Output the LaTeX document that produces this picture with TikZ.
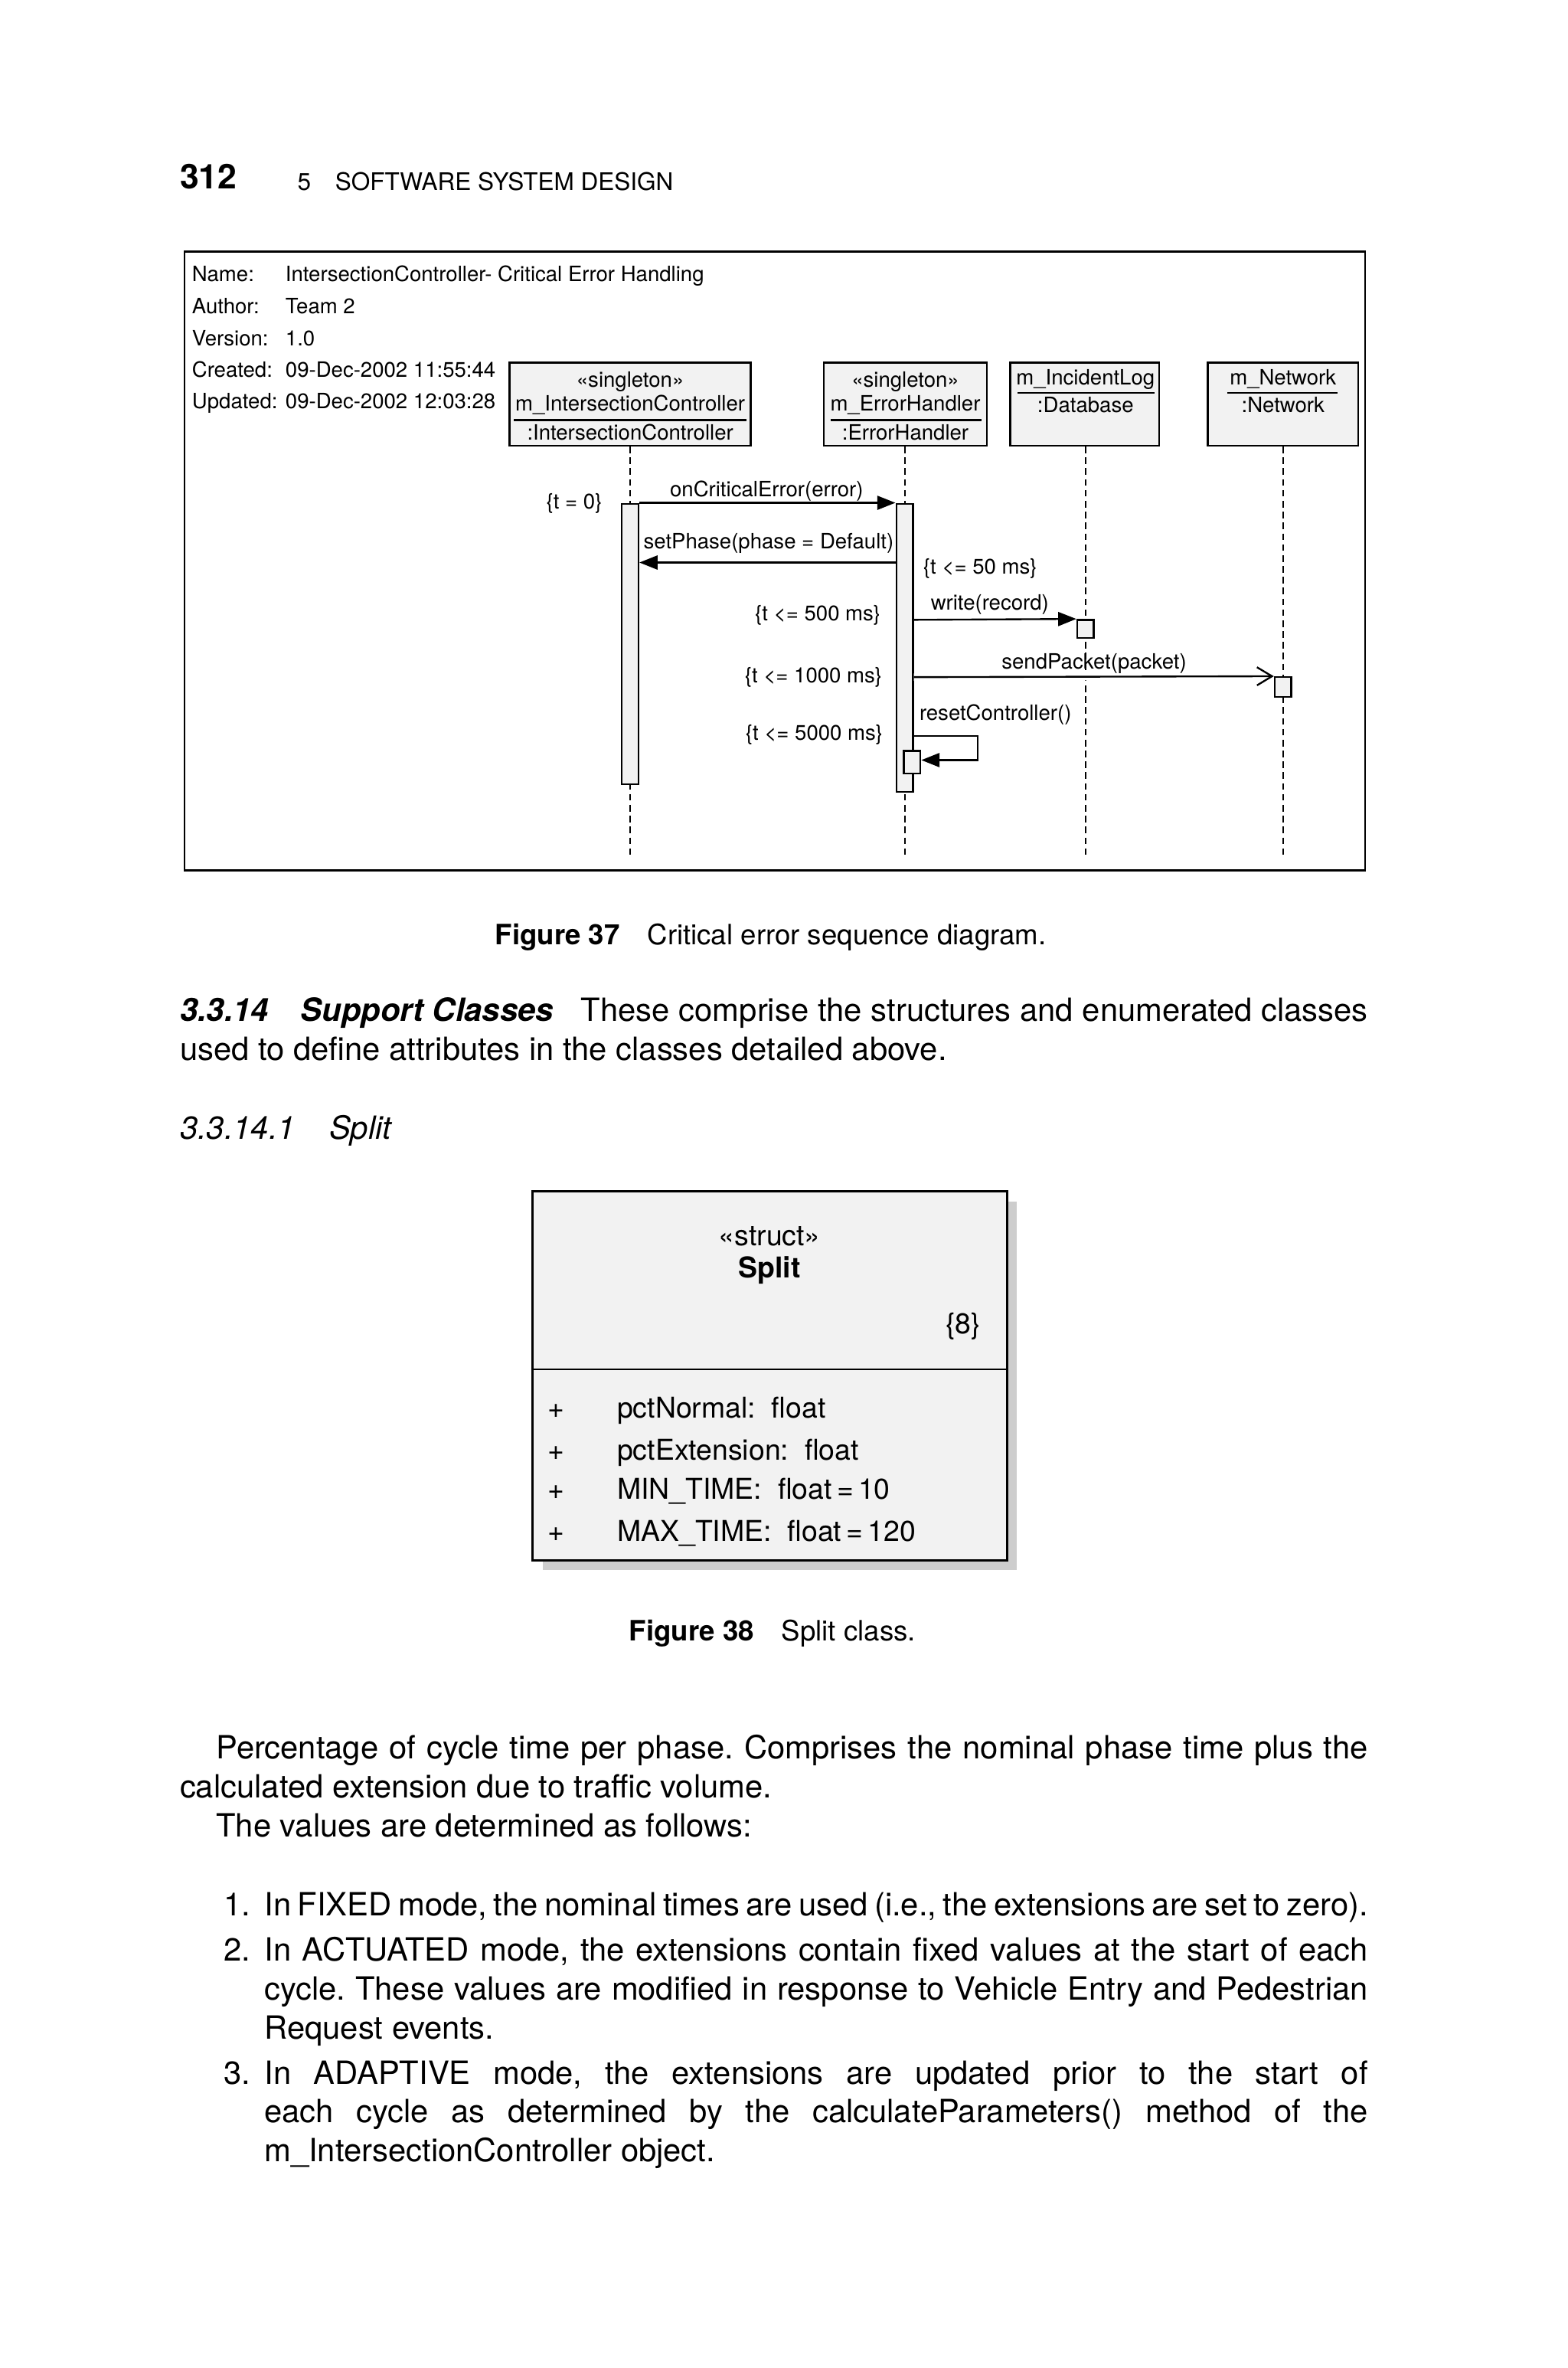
\documentclass[tikz,border=0pt]{standalone}
\usepackage{fontspec}
\setmainfont{TeX Gyre Heros}
\usetikzlibrary{arrows.meta}
\definecolor{boxfill}{HTML}{F2F2F2}
\definecolor{shadowc}{HTML}{CDCDCD}
\newcommand{\fdiag}{\fontsize{7}{8.4}\selectfont}
\newcommand{\fbodytxt}{\fontsize{10.6}{13}\selectfont}
\newcommand{\fcaption}{\fontsize{9.3}{11}\selectfont}
\newcommand{\fsplit}{\fontsize{9.5}{11}\selectfont}
\newcommand{\fhead}{\fontsize{8}{10}\selectfont}
\frenchspacing
\begin{document}
\begin{tikzpicture}[x=0.5pt,y=-0.5pt,
  txt/.style={inner sep=0pt, anchor=west, text height=0.72em, text depth=0pt},
  txtr/.style={txt, anchor=east},
  txtc/.style={txt, anchor=center},
  diag/.style={font=\fdiag, yshift=1.3pt},
  obj/.style={draw, fill=boxfill, line width=0.6pt, inner sep=0pt, minimum height=27.5pt},
  act/.style={draw, fill=boxfill, line width=0.6pt, inner sep=0pt, minimum width=5.5pt},
  life/.style={line width=0.5pt, dash pattern=on 2.2pt off 1.4pt},
  msg/.style={line width=0.6pt, -{Triangle[length=6pt,width=4.6pt]}},
  amsg/.style={line width=0.6pt, -{Straight Barb[length=5pt,width=6pt,line width=0.6pt]}},
  frame/.style={line width=0.7pt}
]
\useasboundingbox (0,0) rectangle (1040,1570.2);
\fill[white] (0,0) rectangle (1040,1570.2);

% ---------- running head
\node[txt, font=\fontsize{11.3}{14}\selectfont\bfseries] (pg) at (119,118) {312};
\node[txt, font=\fhead] (chn) at (197,119) {5};
\node[txt, font=\fhead] (cht) at (222,119) {SOFTWARE SYSTEM DESIGN};

% ---------- sequence diagram frame
\draw[frame] (122.4,167) rectangle (905.5,577);

\node[txt, diag] (nameL) at (127,182) {Name:};
\node[txt, diag] (nameV) at (189,182) {IntersectionController- Critical Error Handling};
\node[txt, diag] (authL) at (127,203.5) {Author:};
\node[txt, diag] (authV) at (189,203.5) {Team 2};
\node[txt, diag] (verL) at (127,224.5) {Version:};
\node[txt, diag] (verV) at (189,224.5) {1.0};
\node[txt, diag] (creL) at (127,245.5) {Created:};
\node[txt, diag] (creV) at (189,245.5) {09-Dec-2002 11:55:44};
\node[txt, diag] (updL) at (127,266.5) {Updated:};
\node[txt, diag] (updV) at (189,266.5) {09-Dec-2002 12:03:28};

% object boxes
\node[obj, minimum width=80pt] (ic) at (418,268) {};
\node[obj, minimum width=54pt] (eh) at (600.5,268) {};
\node[obj, minimum width=49.5pt] (db) at (719.5,268) {};
\node[obj, minimum width=50pt] (nw) at (851,268) {};

\node[txtc, diag] (icS) at (418,252) {«singleton»};
\node[txtc, diag, yshift=0.6pt] (icN) at (418,269) {m\_IntersectionController};
\node[txtc, diag] (icT) at (418,287) {:IntersectionController};
\draw[line width=0.6pt] (341,278.5) -- (495,278.5);

\node[txtc, diag] (ehS) at (600.5,252) {«singleton»};
\node[txtc, diag, yshift=0.6pt] (ehN) at (600.5,269) {m\_ErrorHandler};
\node[txtc, diag] (ehT) at (600.5,287) {:ErrorHandler};
\draw[line width=0.6pt] (551,278.5) -- (651,278.5);

\node[txtc, diag, yshift=0.6pt] (dbN) at (720,252) {m\_IncidentLog};
\node[txtc, diag] (dbT) at (720,269) {:Database};
\draw[line width=0.6pt] (675,260.5) -- (766,260.5);

\node[txtc, diag, yshift=0.6pt] (nwN) at (851,252) {m\_Network};
\node[txtc, diag] (nwT) at (851,269) {:Network};
\draw[line width=0.6pt] (814,260.5) -- (887,260.5);

% lifelines
\coordinate (icE) at (418,569);
\coordinate (ehE) at (600,569);
\coordinate (dbE) at (720,569);
\coordinate (nwE) at (851,569);
\draw[life] (ic.south) -- (icE);
\draw[life] (eh.south -| ehE) -- (ehE);
\draw[life] (db.south -| dbE) -- (dbE);
\draw[life] (nw.south) -- (nwE);

% activations
\node[act, minimum height=93pt] (a1) at (418,427) {};
\node[act, minimum height=95.5pt] (a2) at (600,429.5) {};
\node[act, minimum height=6pt] (adb) at (720,417) {};
\node[act, minimum height=6.5pt] (anw) at (851,455.5) {};
\node[act, minimum height=7.5pt] (aself) at (605,505.5) {};

% messages
\draw[msg] (a1.north east) -- (a2.north west);
\draw[msg] (a2.west |- 0,373) -- (a1.east |- 0,373);
\draw[msg] (a2.east |- 0,411) -- (adb.north west);
\draw[amsg, preaction={draw=white, line width=2.4pt, arrows=-}] (a2.east |- 0,449) -- (anw.north west);
\coordinate (sc1) at (648.5,488);
\coordinate (sc2) at (648.5,504);
\draw[msg] (a2.east |- sc1) -- (sc1) -- (sc2) -- (aself.east |- sc2);

% message labels and constraints
\node[txtc, diag] (l1) at (508.5,324.5) {onCriticalError(error)};
\node[txt, diag] (c0) at (362,333) {\{t = 0\}};
\node[txt, diag] (l2) at (426.5,359) {setPhase(phase = Default)};
\node[txt, diag] (c50) at (612,376) {\{t <= 50 ms\}};
\node[txt, diag] (l3) at (617,400) {write(record)};
\node[txtr, diag] (c500) at (584.5,407) {\{t <= 500 ms\}};
\node[txt, diag] (l4) at (664,439) {sendPacket(packet)};
\node[txtr, diag] (c1000) at (585.5,448) {\{t <= 1000 ms\}};
\node[txt, diag] (l5) at (609.5,473) {resetController()};
\node[txtr, diag] (c5000) at (586,486) {\{t <= 5000 ms\}};

% ---------- caption 37
\node[txt, font=\fcaption\bfseries] (f37a) at (328,619) {Figure 37};
\node[txt, font=\fcaption] (f37b) at (429,619) {Critical error sequence diagram.};

% ---------- section heading
\node[txt, font=\fbodytxt\bfseries\itshape] (h1a) at (119,670) {3.3.14};
\node[txt, font=\fbodytxt\bfseries\itshape] (h1b) at (199,670) {Support Classes};
\node[txt, font=\fbodytxt] (h1c) at (385,670) {\makebox[261pt][s]{These comprise the structures and enumerated classes}};
\node[txt, font=\fbodytxt] (h1d) at (119,696) {used to define attributes in the classes detailed above.};
\node[txt, font=\fbodytxt\itshape] (h2a) at (119,748) {3.3.14.1};
\node[txt, font=\fbodytxt\itshape] (h2b) at (218,748) {Split};

% ---------- Split class
\fill[shadowc] (360,797) rectangle (674.5,1041);
\node[draw, fill=boxfill, line width=0.8pt, inner sep=0pt, minimum width=157.5pt, minimum height=122.3pt] (split) at (510.5,912.3) {};
\draw[line width=0.6pt] (split.west |- 0,908) -- (split.east |- 0,908);
\node[txtc, font=\fsplit] (st) at (510.5,819) {«struct»};
\node[txtc, font=\fsplit\bfseries] (sn) at (510.5,840) {Split};
\node[txtc, font=\fsplit] (s8) at (639,877) {\{8\}};
\node[txtc, font=\fsplit] (p1) at (369,933) {+};
\node[txtc, font=\fsplit] (p2) at (369,961) {+};
\node[txtc, font=\fsplit] (p3) at (369,987) {+};
\node[txtc, font=\fsplit] (p4) at (369,1015) {+};
\node[txt, font=\fsplit] (a1t) at (409,933) {pctNormal:\ \ float};
\node[txt, font=\fsplit] (a2t) at (409,961) {pctExtension:\ \ float};
\node[txt, font=\fsplit] (a3t) at (409,987) {MIN\_TIME:\ \ float\,=\,10};
\node[txt, font=\fsplit] (a4t) at (409,1015) {MAX\_TIME:\ \ float\,=\,120};

% ---------- caption 38
\node[txt, font=\fcaption\bfseries] (f38a) at (417,1081) {Figure 38};
\node[txt, font=\fcaption] (f38b) at (518,1081) {Split class.};

% ---------- body text
\node[txt, font=\fbodytxt] (b1) at (143,1159) {\makebox[382pt][s]{Percentage of cycle time per phase. Comprises the nominal phase time plus the}};
\node[txt, font=\fbodytxt] (b2) at (119,1185) {calculated extension due to traffic volume.};
\node[txt, font=\fbodytxt] (b3) at (143,1211) {The values are determined as follows:};

\node[txt, font=\fbodytxt] (n1) at (148,1263) {1.};
\node[txt, font=\fbodytxt] (i1) at (175,1263) {\makebox[366pt][s]{In FIXED mode, the nominal times are used (i.e., the extensions are set to zero).}};
\node[txt, font=\fbodytxt] (n2) at (148,1293) {2.};
\node[txt, font=\fbodytxt] (i2a) at (175,1293) {\makebox[366pt][s]{In ACTUATED mode, the extensions contain fixed values at the start of each}};
\node[txt, font=\fbodytxt] (i2b) at (175,1319) {\makebox[366pt][s]{cycle. These values are modified in response to Vehicle Entry and Pedestrian}};
\node[txt, font=\fbodytxt] (i2c) at (175,1345) {Request events.};
\node[txt, font=\fbodytxt] (n3) at (148,1375) {3.};
\node[txt, font=\fbodytxt] (i3a) at (175,1375) {\makebox[366pt][s]{In ADAPTIVE mode, the extensions are updated prior to the start of}};
\node[txt, font=\fbodytxt] (i3b) at (175,1400) {\makebox[366pt][s]{each cycle as determined by the calculateParameters() method of the}};
\node[txt, font=\fbodytxt] (i3c) at (175,1426) {m\_IntersectionController object.};
\end{tikzpicture}
\end{document}
